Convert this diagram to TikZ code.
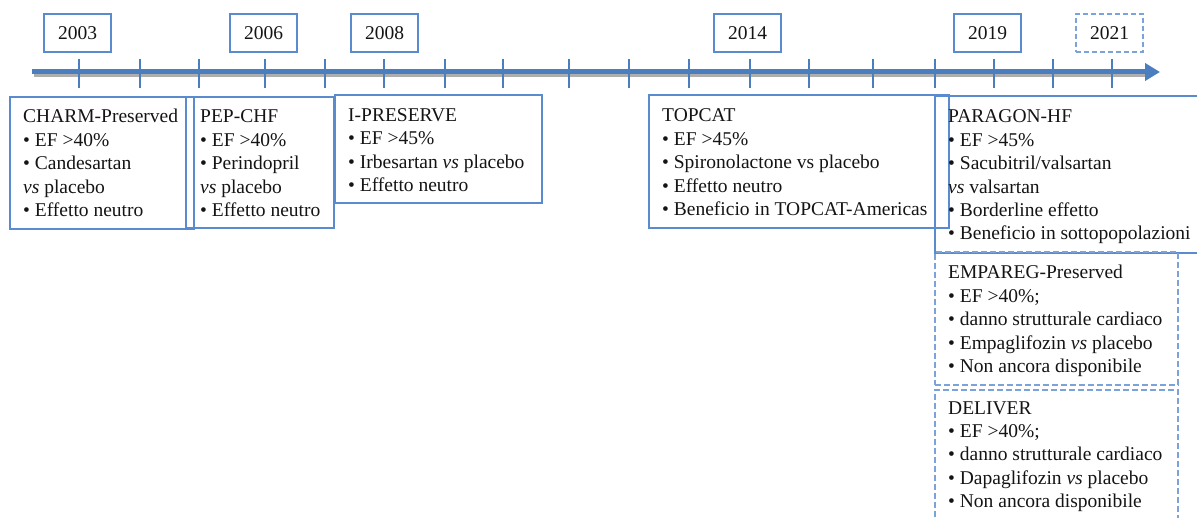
\documentclass[tikz,border=0pt]{standalone}
\usepackage{fontspec}
\setmainfont{Liberation Serif}
\usetikzlibrary{arrows.meta}
\definecolor{axisblue}{HTML}{4A7EBF}
\definecolor{boxblue}{HTML}{5B8BCF}
\definecolor{dashblue}{HTML}{7BA3DA}
\definecolor{ink}{HTML}{141414}
\newcommand{\trialfont}{\fontsize{19.5}{23.4}\selectfont}
\begin{document}
\begin{tikzpicture}[x=1pt,y=-1pt,
  yearbox/.style={draw=boxblue, line width=1.6pt, minimum width=67pt,
    minimum height=38pt, inner sep=0pt, font=\trialfont, text=ink},
  plannedyear/.style={yearbox, draw=dashblue, dash pattern=on 5pt off 3pt},
  trialbox/.style={draw=boxblue, line width=1.2pt, anchor=north west,
    inner sep=0pt, outer sep=0pt},
  plannedbox/.style={trialbox, draw=dashblue, dash pattern=on 6pt off 3pt},
  trialtext/.style={anchor=base west, inner sep=0pt, font=\trialfont, text=ink},
  tickmark/.style={draw=axisblue, line width=2.8pt}
]
\useasboundingbox (0,0) rectangle (1197,518);
\clip (0,0) rectangle (1197,518);

% ---- time axis ----
\coordinate (tlstart) at (32,72);
\coordinate (tlend) at (1160,72);
\draw[line width=4pt, black!45, opacity=0.7] (34,75.5) -- (1146,75.5);
\draw[axisblue, line width=5pt, -{Triangle[length=15pt,width=17pt]}]
  (tlstart) -- (tlend);
\foreach \x in {79,140,199,265,325,384,445,503,569,629,689,750,809,873,935,994,1053,1112}
  \draw[tickmark] (\x,59) -- (\x,88);

% ---- years ----
\node[yearbox] (y2003) at (77.5,33) {2003};
\node[yearbox] (y2006) at (263.5,33) {2006};
\node[yearbox] (y2008) at (384.5,33) {2008};
\node[yearbox] (y2014) at (747.5,33) {2014};
\node[yearbox] (y2019) at (987.5,33) {2019};
\node[plannedyear] (y2021) at (1109.5,33) {2021};

% ---- completed trials ----
\node[trialbox, minimum width=184pt, minimum height=132pt] (charmbox) at (10,97) {};
\node[trialbox, minimum width=148pt, minimum height=131pt] (pepbox) at (186,97) {};
\node[trialbox, minimum width=207pt, minimum height=108pt] (ipresbox) at (335,95) {};
\node[trialbox, minimum width=300pt, minimum height=133pt] (topcatbox) at (649,95) {};
\node[trialbox, minimum width=280pt, minimum height=157pt] (paragonbox) at (935,96) {};

\node[trialtext] (charmtxt) at (23,123) {\begin{tabular}[t]{@{}l@{}}
  CHARM-Preserved\\ • EF >40\%\\ • Candesartan\\ \textit{vs} placebo\\ • Effetto neutro
  \end{tabular}};
\node[trialtext] (peptxt) at (200,123) {\begin{tabular}[t]{@{}l@{}}
  PEP-CHF\\ • EF >40\%\\ • Perindopril\\ \textit{vs} placebo\\ • Effetto neutro
  \end{tabular}};
\node[trialtext] (iprestxt) at (348,121.5) {\begin{tabular}[t]{@{}l@{}}
  I-PRESERVE\\ • EF >45\%\\ • Irbesartan \textit{vs} placebo\\ • Effetto neutro
  \end{tabular}};
\node[trialtext] (topcattxt) at (662,122) {\begin{tabular}[t]{@{}l@{}}
  TOPCAT\\ • EF >45\%\\ • Spironolactone vs placebo\\ • Effetto neutro\\
  • Beneficio in TOPCAT-Americas
  \end{tabular}};
\node[trialtext] (paragontxt) at (948,123) {\begin{tabular}[t]{@{}l@{}}
  PARAGON-HF\\ • EF >45\%\\ • Sacubitril/valsartan\\ \textit{vs} valsartan\\
  • Borderline effetto\\ • Beneficio in sottopopolazioni
  \end{tabular}};

% ---- ongoing trials ----
\node[plannedbox, minimum width=243pt, minimum height=133pt] (empabox) at (935,252) {};
\node[plannedbox, minimum width=243pt, minimum height=140pt] (deliverbox) at (935,390) {};

\node[trialtext] (empatxt) at (948,279) {\begin{tabular}[t]{@{}l@{}}
  EMPAREG-Preserved\\ • EF >40\%;\\ • danno strutturale cardiaco\\
  • Empaglifozin \textit{vs} placebo\\ • Non ancora disponibile
  \end{tabular}};
\node[trialtext] (delivertxt) at (948,414) {\begin{tabular}[t]{@{}l@{}}
  DELIVER\\ • EF >40\%;\\ • danno strutturale cardiaco\\
  • Dapaglifozin \textit{vs} placebo\\ • Non ancora disponibile
  \end{tabular}};
\end{tikzpicture}
\end{document}
